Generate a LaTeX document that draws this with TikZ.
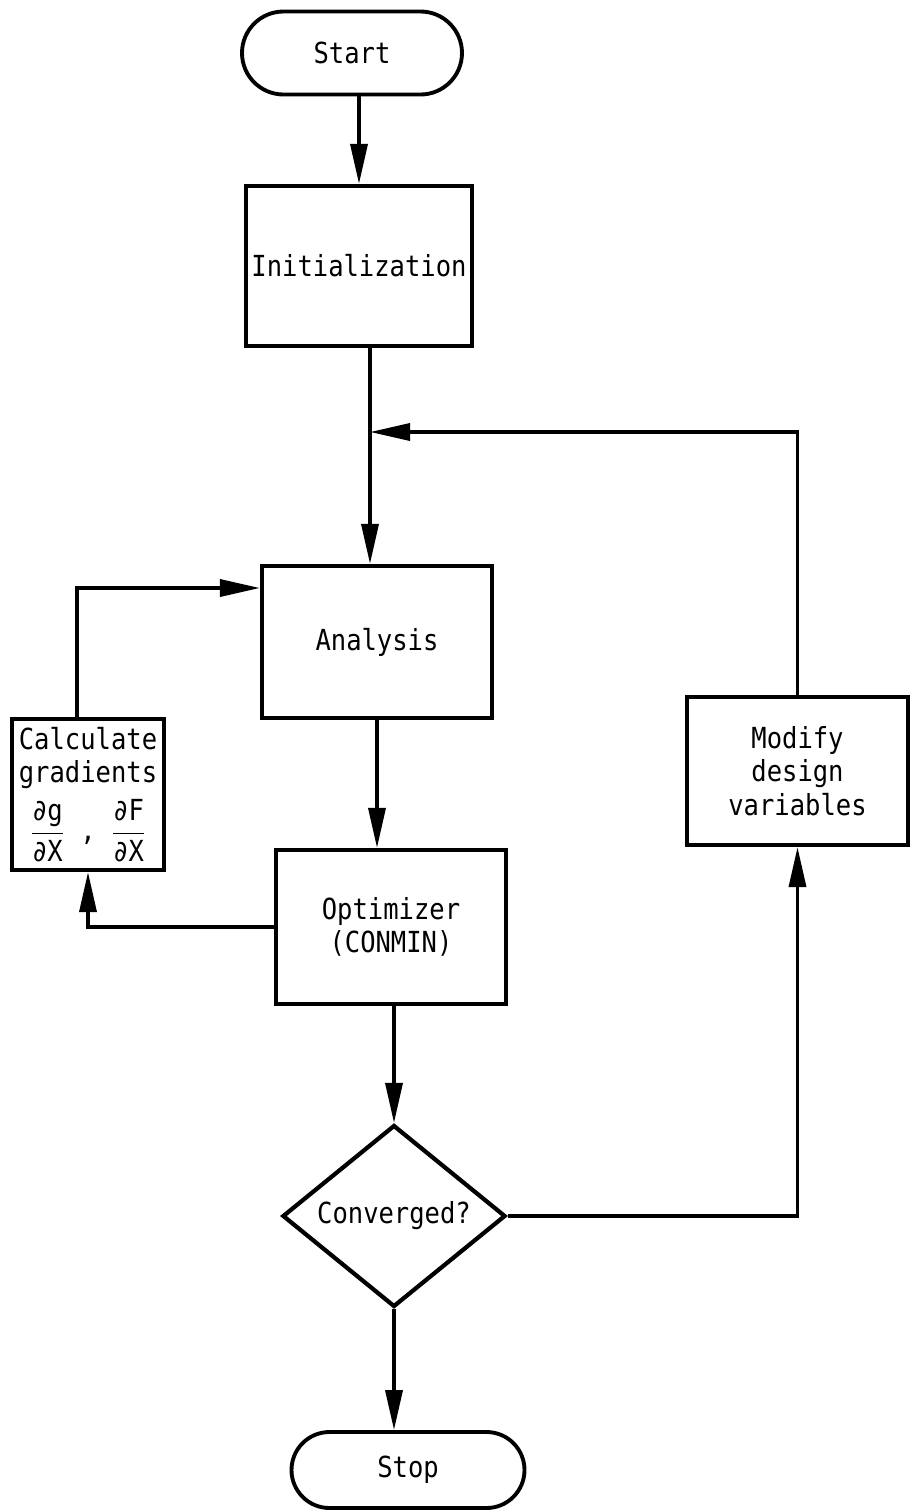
\documentclass[tikz,border=0pt]{standalone}
\usepackage{fontspec}
\setmainfont{DejaVu Sans Mono}[FakeStretch=0.88]
\usetikzlibrary{shapes.geometric,shapes.misc,arrows.meta}
\begin{document}
\begin{tikzpicture}[
  font=\fontsize{16.5}{19}\selectfont,
  box/.style={draw, line width=2.4pt, rectangle, inner sep=0pt, align=center},
  term/.style={draw, line width=2.2pt, rounded rectangle, inner sep=0pt},
  decision/.style={draw, line width=2.4pt, diamond, inner sep=0pt},
  conn/.style={line width=2pt, -{Triangle[length=0.8cm,width=0.34cm]}}
]
\useasboundingbox (0,0) rectangle (18.2,-30.24);

\node[term, minimum width=4.4cm, minimum height=1.66cm] (start) at (7.04,-1.06) {Start};
\node[box, minimum width=4.52cm, minimum height=3.2cm] (init) at (7.18,-5.32) {Initialization};
\node[box, minimum width=4.6cm, minimum height=3.04cm] (analysis) at (7.54,-12.84) {Analysis};
\node[box, minimum width=4.6cm, minimum height=3.08cm] (opt) at (7.82,-18.54) {Optimizer\\(CONMIN)};
\node[box, minimum width=3.04cm, minimum height=3.02cm] (calc) at (1.76,-15.89)
  {Calculate\\gradients\\[5pt]$\displaystyle\frac{\hbox{∂g}}{\hbox{∂X}}\hbox{ , }\frac{\hbox{∂F}}{\hbox{∂X}}$};
\node[box, minimum width=4.42cm, minimum height=2.96cm] (modify) at (15.95,-15.42) {Modify\\design\\variables};
\node[decision, minimum width=4.46cm, minimum height=2.94cm] (conv) at (7.88,-24.32) {Converged?};
\node[term, minimum width=4.66cm, minimum height=1.52cm] (stop) at (8.16,-29.4) {Stop};

\coordinate (j) at (7.4,-8.64);

\draw[conn] (init.north |- start.south) -- (init.north);
\draw[conn] (init.south -| j) -- (analysis.north -| j);
\draw[conn] (modify.north) |- (j);
\draw[conn] (analysis.south) -- (analysis.south |- opt.north);
\draw[conn] (conv.north |- opt.south) -- (conv.north);
\draw[conn] (conv.south) -- (conv.south |- stop.north);
\draw[conn] (conv.east) -| (modify.south);
\draw[conn] (opt.west) -| (calc.south);
\draw[conn] ([xshift=-0.22cm]calc.north) |- ([yshift=1.08cm]analysis.west);
\end{tikzpicture}
\end{document}
